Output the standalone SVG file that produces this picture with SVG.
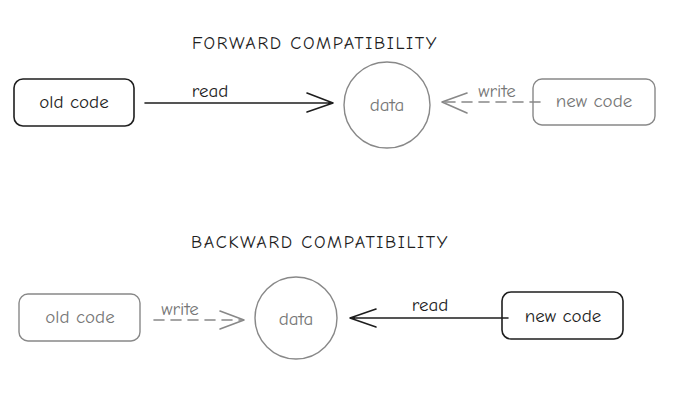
<svg xmlns="http://www.w3.org/2000/svg" width="680" height="409" viewBox="0 0 680 409">
<style>
text{font-family:"Comic Neue","Liberation Sans","DejaVu Sans",sans-serif;font-size:19px;text-anchor:middle;dominant-baseline:central}
.t{font-size:18px;letter-spacing:1.6px;fill:#1e1e1e}
.k{fill:#1e1e1e}
.g{fill:#777}
.bk{fill:none;stroke:#1e1e1e;stroke-width:1.6}
.gr{fill:none;stroke:#888;stroke-width:1.4}
.ln{fill:none;stroke-width:1.6;stroke-linecap:round;stroke-linejoin:round}
</style>
<rect width="680" height="409" fill="#fff"/>
<text class="t" x="315" y="43">FORWARD COMPATIBILITY</text>
<text class="t" x="320" y="242">BACKWARD COMPATIBILITY</text>
<g id="old1"><rect class="bk" x="14" y="79" width="120" height="47" rx="9"/><text class="k" x="74" y="102">old code</text></g>
<g id="data1"><circle class="gr" cx="387" cy="105" r="43"/><text class="g" x="387" y="105">data</text></g>
<g id="new1"><rect class="gr" x="533" y="79" width="122" height="46" rx="9"/><text class="g" x="594" y="101">new code</text></g>
<g id="old2"><rect class="gr" x="19" y="294" width="121" height="47" rx="9"/><text class="g" x="80" y="317">old code</text></g>
<g id="data2"><circle class="gr" cx="296" cy="318" r="41"/><text class="g" x="296" y="319">data</text></g>
<g id="new2"><rect class="bk" x="502" y="292" width="121" height="47" rx="9"/><text class="k" x="563" y="316">new code</text></g>
<g id="connectors">
<path class="ln" stroke="#1e1e1e" d="M145 103H333M307 93L333 103L307 112"/>
<text class="k" x="210" y="91">read</text>
<path class="ln" stroke="#888" stroke-dasharray="10 7" d="M540 102H443"/>
<path class="ln" stroke="#888" d="M467 93L442 102L467 113"/>
<text class="g" x="497" y="91">write</text>
<path class="ln" stroke="#888" stroke-dasharray="10 7" d="M154 320H243"/>
<path class="ln" stroke="#888" d="M220 311L244 320L220 329"/>
<text class="g" x="180" y="309">write</text>
<path class="ln" stroke="#1e1e1e" d="M508 318H350M376 309L350 318L376 327"/>
<text class="k" x="430" y="305">read</text>
</g>
</svg>
